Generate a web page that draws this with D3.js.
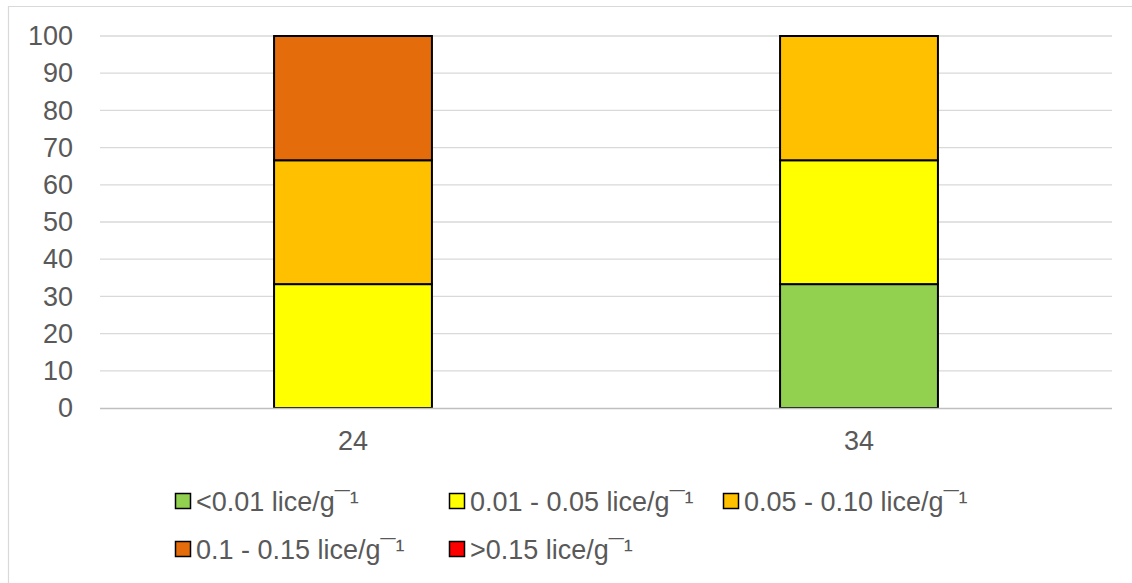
<!DOCTYPE html>
<html>
<head>
<meta charset="utf-8">
<script src="https://cdn.jsdelivr.net/npm/d3@7"></script>
<style>
  html, body { margin: 0; padding: 0; background: #fff; overflow: hidden; }
  svg { display: block; }
  text { font-family: "Liberation Sans", Arial, sans-serif; }
</style>
</head>
<body>
<svg id="chart" width="1132" height="583"></svg>
<script>
// Sampling points (categories on the x axis)
const categories = ["24", "34"];

// Lice-load classes, stacked bottom to top
const seriesNames = [
  "<0.01 lice/g\u00AF\u00B9",
  "0.01 - 0.05 lice/g\u00AF\u00B9",
  "0.05 - 0.10 lice/g\u00AF\u00B9",
  "0.1 - 0.15 lice/g\u00AF\u00B9",
  ">0.15 lice/g\u00AF\u00B9"
];
const seriesColors = ["#92D050", "#FFFF00", "#FFC000", "#E46C0A", "#FF0000"];

// Proportion (%) of fish in each class, one array per class (order follows categories)
const below001 = [0, 33.3];
const from001  = [33.3, 33.3];
const from005  = [33.3, 33.4];
const from010  = [33.4, 0];
const above015 = [0, 0];

const yTicks = [0, 10, 20, 30, 40, 50, 60, 70, 80, 90, 100];

const seriesValues = [below001, from001, from005, from010, above015];
const table = categories.map((c, i) => {
  const row = { cat: c };
  seriesNames.forEach((s, k) => { row[s] = seriesValues[k][i]; });
  return row;
});

const FONT = 27;
const TEXT_COLOR = "#595959";

const svg = d3.select("#chart");

// Chart frame
svg.append("path")
  .attr("d", "M8.5,583 L8.5,6.5 L1132,6.5")
  .attr("fill", "none").attr("stroke", "#D9D9D9").attr("stroke-width", 1.2);

const plot = { left: 100, right: 1112, top: 36, bottom: 408 };

const x = d3.scaleBand().domain(categories).range([plot.left, plot.right])
  .paddingInner(0.688).paddingOuter(0.344);
const y = d3.scaleLinear().domain([0, 100]).range([plot.bottom, plot.top]);

// Gridlines
svg.append("g").selectAll("line").data(yTicks.filter(t => t > 0)).join("line")
  .attr("x1", plot.left).attr("x2", plot.right)
  .attr("y1", d => y(d)).attr("y2", d => y(d))
  .attr("stroke", "#D9D9D9").attr("stroke-width", 1.3);

// Y axis labels
const yAxis = d3.axisLeft(y).tickValues(yTicks).tickSize(0).tickPadding(0);
const gy = svg.append("g").attr("transform", `translate(${plot.left - 27},0)`).call(yAxis);
gy.select(".domain").remove();
gy.selectAll("text").attr("font-size", FONT).attr("fill", TEXT_COLOR)
  .attr("font-family", "Liberation Sans, Arial, sans-serif");

// Stacked bars
const stack = d3.stack().keys(seriesNames);
const layers = stack(table);
svg.append("g").selectAll("g").data(layers).join("g")
  .attr("fill", (d, i) => seriesColors[i])
  .selectAll("rect").data(d => d.filter(p => p[1] - p[0] > 0)).join("rect")
  .attr("x", d => x(d.data.cat))
  .attr("width", x.bandwidth())
  .attr("y", d => y(d[1]))
  .attr("height", d => y(d[0]) - y(d[1]))
  .attr("stroke", "#000").attr("stroke-width", 2);

// X axis baseline
svg.append("line")
  .attr("x1", plot.left).attr("x2", plot.right)
  .attr("y1", y(0) + 0.5).attr("y2", y(0) + 0.5)
  .attr("stroke", "#BFBFBF").attr("stroke-width", 1.5);

// X axis labels
const xAxis = d3.axisBottom(x).tickSize(0).tickPadding(0);
const gx = svg.append("g").attr("transform", `translate(0,${plot.bottom + 23})`).call(xAxis);
gx.select(".domain").remove();
gx.selectAll("text").attr("font-size", FONT).attr("fill", TEXT_COLOR)
  .attr("font-family", "Liberation Sans, Arial, sans-serif");

// Legend: three columns, two rows
const colX = [175, 449, 723];
const rowY = [501, 549];
const lg = svg.append("g").selectAll("g").data(seriesNames).join("g")
  .attr("transform", (d, i) => `translate(${colX[i % 3]},${rowY[Math.floor(i / 3)]})`);
lg.append("rect")
  .attr("x", 0.5).attr("y", -7.5).attr("width", 15).attr("height", 15)
  .attr("fill", (d, i) => seriesColors[i])
  .attr("stroke", "#000").attr("stroke-width", 1.5);
lg.append("text")
  .attr("x", 21).attr("y", 10)
  .attr("font-size", FONT).attr("fill", TEXT_COLOR)
  .text(d => d);
</script>
</body>
</html>
